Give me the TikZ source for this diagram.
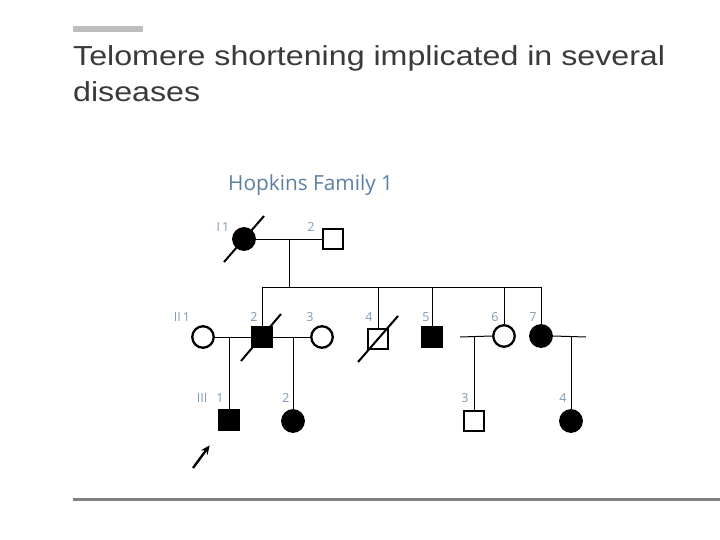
\documentclass[tikz,border=0pt]{standalone}
\usepackage{fontspec}
\setmainfont{Liberation Sans}
\newfontfamily\labfont{Open Sans}
\usetikzlibrary{arrows.meta}
\definecolor{titlegray}{HTML}{3A3A3A}
\definecolor{bargray}{HTML}{BEBEBE}
\definecolor{rulegray}{HTML}{808080}
\definecolor{labblue}{HTML}{5B7FA3}
\definecolor{numblue}{HTML}{809BB6}
\begin{document}
\begin{tikzpicture}[x=1pt,y=-1pt,
  person/.style={draw=black,line width=2.3pt,inner sep=0pt},
  male/.style={person,rectangle,minimum size=20.5pt},
  female/.style={person,circle,minimum width=21.5pt,minimum height=21.5pt},
  aff/.style={fill=black},
  unaff/.style={fill=white},
  link/.style={draw=black,line width=1pt},
  slashline/.style={draw=black,line width=2pt},
  num/.style={font=\labfont\fontsize{12.5}{14}\selectfont,text=numblue,inner sep=0pt},
  titletext/.style={font=\fontsize{27.5}{32}\selectfont,text=titlegray,anchor=base west,inner sep=0pt}
]
\useasboundingbox (0,0) rectangle (720,540);
% header
\fill[bargray] (73,26) rectangle (143,32);
\node[titletext] (t1) at (73,66) {\scalebox{1.17}[1]{Telomere shortening implicated in several}};
\node[titletext] (t2) at (73,102) {\scalebox{1.17}[1]{diseases}};
\draw[rulegray,line width=3pt] (73,499) -- (720,499);
\node[font=\labfont\fontsize{20.8}{22}\selectfont,text=labblue,anchor=west,inner sep=0pt] (fam) at (228,185) {Hopkins Family 1};

% generation I
\node[female,aff] (I1) at (244,239) {};
\node[male,unaff] (I2) at (333,239) {};
% generation II
\node[female,unaff] (II1) at (203,337) {};
\node[male,aff] (II2) at (262,337) {};
\node[female,unaff] (II3) at (322,337) {};
\node[male,unaff] (II4) at (378,339) {};
\node[male,aff] (II5) at (432,337) {};
\node[female,unaff] (II6) at (504,336) {};
\node[female,aff] (II7) at (541,336) {};
% generation III
\node[male,aff] (III1) at (229,420) {};
\node[female,aff] (III2) at (293,421) {};
\node[male,unaff] (III3) at (474,421) {};
\node[female,aff] (III4) at (571,421) {};

% connectors
\coordinate (m1) at (289,239);
\coordinate (sib1) at (289,287);
\coordinate (sL) at (262,287);
\coordinate (sR) at (541,287);
\coordinate (m2) at (229,337);
\coordinate (m3) at (293,337);
\coordinate (m4a) at (460,337);
\coordinate (m4) at (474,337);
\coordinate (m5a) at (586,337);
\coordinate (m5) at (571,337);
\draw[link] (I1.east) -- (I2.west);
\draw[link] (m1) -- (sib1);
\draw[link] (sL) -- (sR);
\draw[link] (sL) -- (II2.north);
\draw[link] (II4.north |- sL) -- (II4.north);
\draw[link] (II5.north |- sL) -- (II5.north);
\draw[link] (II6.north |- sL) -- (II6.north);
\draw[link] (sR) -- (II7.north);
\draw[link] (II1.east) -- (II2.west);
\draw[link] (m2) -- (III1.north);
\draw[link] (II2.east) -- (II3.west);
\draw[link] (m3) -- (III2.north);
\draw[link] (m4a) -- (II6.west);
\draw[link] (m4) -- (III3.north);
\draw[link] (II7.east) -- (m5a);
\draw[link] (m5) -- (III4.north);

% deceased slashes
\draw[slashline] ([shift={(-20,23)}]I1.center) -- ([shift={(20,-23)}]I1.center);
\draw[slashline] ([shift={(-21,24)}]II2.center) -- ([shift={(19,-23)}]II2.center);
\draw[slashline] ([shift={(-20,23)}]II4.center) -- ([shift={(20,-23)}]II4.center);

% proband arrow
\coordinate (arrS) at (193,468);
\draw[line width=2.4pt,-{Stealth[length=9pt,width=8pt]}] (arrS) -- ([shift={(-8,14)}]III1.south west);

% labels
\node[num] (lI1) at (223,227) {I\,1};
\node[num] (lI2) at (311,227) {2};
\node[num] (lII1) at (182,317) {II\,1};
\node[num] (lII2) at (254,317) {2};
\node[num] (lII3) at (310,317) {3};
\node[num] (lII4) at (369,317) {4};
\node[num] (lII5) at (426,317) {5};
\node[num] (lII6) at (495,317) {6};
\node[num] (lII7) at (533,317) {7};
\node[num] (lIII) at (202,398) {III};
\node[num] (lIII1) at (220,398) {1};
\node[num] (lIII2) at (286,398) {2};
\node[num] (lIII3) at (465,398) {3};
\node[num] (lIII4) at (563,398) {4};
\end{tikzpicture}
\end{document}
